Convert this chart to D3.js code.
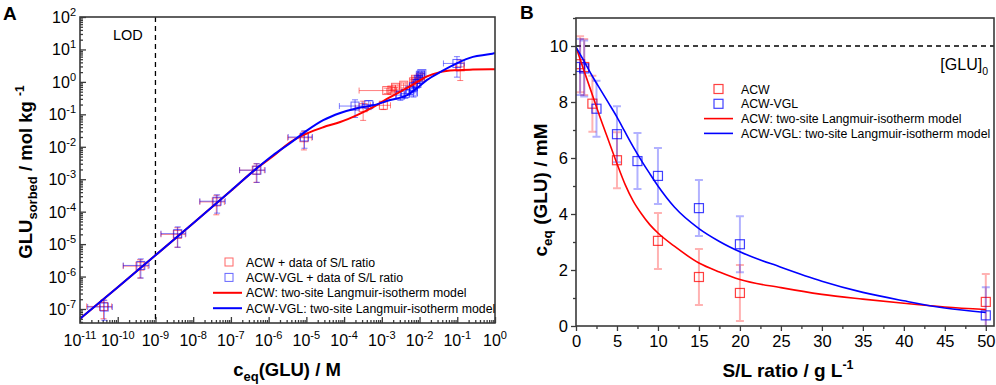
<!DOCTYPE html>
<html>
<head>
<meta charset="utf-8">
<script src="https://cdn.jsdelivr.net/npm/d3@7"></script>
<style>
  body { margin: 0; background: #fff; }
  svg { display: block; font-family: "Liberation Sans", Arial, Helvetica, sans-serif; }
</style>
</head>
<body>
<div id="chart"></div>
<script>
// ---------- Panel A: sorption isotherm (log-log) ----------
const aXExp = [-11, -10, -9, -8, -7, -6, -5, -4, -3, -2, -1, 0];
const aYExp = [-7, -6, -5, -4, -3, -2, -1, 0, 1, 2];
const lodC = 1e-9;

// ACW + data of S/L ratio
const acwC    = [4.2e-11, 3.9e-10, 3.8e-9, 4.1e-8, 4.7e-7, 8.6e-6, 3.2e-4, 1.1e-3, 1.35e-3, 1.85e-3, 2.3e-3, 3.8e-3, 6.9e-3, 7.8e-3, 1.05e-2, 0.12];
const acwQ    = [1.2e-7, 2.1e-6, 2.0e-5, 2.0e-4, 1.9e-3, 0.019, 0.16, 0.19, 0.54, 0.56, 0.68, 0.79, 1.0, 1.2, 1.4, 2.9];
const acwCErr = [2.7e-11, 2.5e-10, 2.4e-9, 2.6e-8, 3e-7, 5.4e-6, 1.2e-4, 6e-4, 1.1e-3, 3e-4, 4e-4, 6e-4, 1e-3, 1.2e-3, 1.4e-3, 0.03];
const acwQErr = [0.7e-7, 1.2e-6, 1.2e-5, 1.2e-4, 1.1e-3, 0.011, 0.095, 0.05, 0.1, 0.1, 0.12, 0.14, 0.18, 0.2, 0.25, 1.8];

// ACW-VGL + data of S/L ratio
const vglC    = [4.4e-11, 4.1e-10, 3.9e-9, 4.3e-8, 4.9e-7, 8.9e-6, 1.95e-4, 4.5e-4, 3.1e-3, 4.2e-3, 5.6e-3, 6.9e-3, 6.9e-3, 8.5e-3, 9.3e-3, 1.05e-2, 1.15e-2, 0.098];
const vglQ    = [1.15e-7, 2.2e-6, 2.1e-5, 2.1e-4, 1.9e-3, 0.020, 0.18, 0.20, 0.39, 0.44, 0.56, 0.71, 0.49, 0.89, 1.2, 1.6, 1.8, 3.7];
const vglCErr = [2.8e-11, 2.7e-10, 2.5e-9, 2.8e-8, 3.2e-7, 5.6e-6, 1.2e-4, 1.5e-4, 8e-4, 1e-3, 1.2e-3, 1.5e-3, 1.3e-3, 1.5e-3, 1.6e-3, 1.8e-3, 2e-3, 0.055];
const vglQErr = [0.7e-7, 1.3e-6, 1.3e-5, 1.2e-4, 1.1e-3, 0.011, 0.1, 0.06, 0.12, 0.13, 0.15, 0.2, 0.15, 0.25, 0.3, 0.35, 0.4, 2.3];

// two-site Langmuir model curves
const modelC   = [1e-11, 1e-10, 1e-9, 1e-8, 1e-7, 4.9e-7, 1.3e-6, 3.7e-6, 1.05e-5, 2.8e-5, 7.9e-5, 2.2e-4, 5.9e-4, 1.66e-3, 4.7e-3, 8.7e-3, 1.58e-2, 3.5e-2, 0.1, 0.26, 0.76, 1];
const acwModel = [5.0e-8, 4.7e-7, 4.5e-6, 4.4e-5, 4.4e-4, 2.2e-3, 5.1e-3, 0.0138, 0.026, 0.040, 0.058, 0.095, 0.166, 0.34, 0.65, 1.0, 1.48, 2.0, 2.3, 2.4, 2.45, 2.45];
const vglModel = [5.0e-8, 4.7e-7, 4.5e-6, 4.4e-5, 4.4e-4, 2.2e-3, 5.5e-3, 0.0129, 0.032, 0.066, 0.11, 0.155, 0.19, 0.275, 0.39, 0.65, 1.15, 2.0, 3.8, 5.9, 7.2, 7.8];

// ---------- Panel B: c_eq vs S/L ratio ----------
const bXTicks = [0, 5, 10, 15, 20, 25, 30, 35, 40, 45, 50];
const bYTicks = [0, 2, 4, 6, 8, 10];
const glu0 = 10;

const slACW   = [0.5, 1, 2, 5, 10, 15, 20, 50];
const ceqACW  = [9.35, 9.25, 7.94, 5.92, 3.04, 1.75, 1.18, 0.86];
const errACW  = [1, 1, 1, 1, 1, 1, 1, 1];

const slVGL   = [0.5, 1, 2.5, 5, 7.5, 10, 15, 20, 50];
const ceqVGL  = [9.25, 9.2, 7.76, 6.85, 5.89, 5.36, 4.21, 2.92, 0.38];
const errVGL  = [1, 1, 1, 1, 1, 1, 1, 1, 1];

const slModel = [0, 1, 2, 3, 4, 5, 6, 7, 8, 9, 10, 12, 15, 17.5, 20, 25, 30, 35, 40, 45, 50];
const acwFit  = [9.96, 9.1, 8.25, 7.4, 6.6, 5.8, 5.05, 4.45, 4.0, 3.62, 3.32, 2.85, 2.25, 1.93, 1.66, 1.37, 1.13, 0.96, 0.81, 0.68, 0.59];
const vglFit  = [9.96, 9.45, 8.92, 8.43, 7.95, 7.46, 6.92, 6.39, 5.9, 5.44, 5.0, 4.25, 3.48, 3.02, 2.65, 2.1, 1.6, 1.2, 0.9, 0.64, 0.48];

const RED = "#ff0000", BLUE = "#0000ff";
const FRAME = "#3a3a3a";

function zip(xs, ys, xe, ye) {
    return xs.map(function(x, i) {
        return {x: x, y: ys[i], xe: xe ? xe[i] : 0, ye: ye ? ye[i] : 0};
    });
}

let svg = d3.select("#chart")
    .append("svg")
    .attr("width", 996)
    .attr("height", 385);

// ======================= Panel A =======================
let ax = d3.scaleLog().domain([1e-11, 1]).range([80, 495]);
let ay = d3.scaleLog().domain([3.7e-8, 100]).range([323, 17]);
let gA = svg.append("g");

// minor log ticks
function logMinors(exps) {
    let out = [];
    exps.forEach(function(e) {
        for (let m = 2; m <= 9; m++) out.push(m * Math.pow(10, e));
    });
    return out;
}
let aXMajor = aXExp.map(function(e) { return Math.pow(10, e); });
let aYMajor = aYExp.map(function(e) { return Math.pow(10, e); });
let aXMinor = logMinors(aXExp.slice(0, -1));
let aYMinor = logMinors([-8].concat(aYExp.slice(0, -1))).filter(function(v) { return v >= 3.7e-8; });

function styleAxis(g) {
    g.select(".domain").remove();
    g.selectAll("line").attr("stroke", FRAME).attr("stroke-width", 1.3);
}

gA.append("g").attr("transform", "translate(0,323)")
    .call(d3.axisBottom(ax).tickValues(aXMajor).tickSize(-6).tickFormat(""))
    .call(styleAxis);
gA.append("g").attr("transform", "translate(0,323)")
    .call(d3.axisBottom(ax).tickValues(aXMinor).tickSize(-3).tickFormat(""))
    .call(styleAxis);
gA.append("g").attr("transform", "translate(80,0)")
    .call(d3.axisLeft(ay).tickValues(aYMajor).tickSize(-6).tickFormat(""))
    .call(styleAxis);
gA.append("g").attr("transform", "translate(80,0)")
    .call(d3.axisLeft(ay).tickValues(aYMinor).tickSize(-3).tickFormat(""))
    .call(styleAxis);

// tick labels as 10^n
gA.selectAll(".xlab").data(aXExp).enter()
    .append("text")
    .attr("class", "xlab")
    .attr("x", function(d) { return ax(Math.pow(10, d)); })
    .attr("y", 346)
    .attr("text-anchor", "middle")
    .attr("font-size", 16)
    .each(function(d) {
        let t = d3.select(this);
        t.append("tspan").text("10");
        t.append("tspan").attr("dy", -7).attr("font-size", 11).text(d);
    });
gA.selectAll(".ylab").data(aYExp).enter()
    .append("text")
    .attr("class", "ylab")
    .attr("x", 76)
    .attr("y", function(d) { return ay(Math.pow(10, d)) + 6; })
    .attr("text-anchor", "end")
    .attr("font-size", 16)
    .each(function(d) {
        let t = d3.select(this);
        t.append("tspan").text("10");
        t.append("tspan").attr("dy", -7).attr("font-size", 11).text(d);
    });

// LOD line
gA.append("line")
    .attr("x1", ax(lodC)).attr("x2", ax(lodC))
    .attr("y1", 17).attr("y2", 323)
    .attr("stroke", "#000").attr("stroke-width", 1.3)
    .attr("stroke-dasharray", "5,4");
gA.append("text").attr("x", 113).attr("y", 40).attr("font-size", 14.5).text("LOD");

gA.append("clipPath").attr("id", "clipA")
    .append("rect").attr("x", 80).attr("y", 17).attr("width", 415).attr("height", 306);

let plotA = gA.append("g").attr("clip-path", "url(#clipA)");

function errPathA(p) {
    let cx = ax(p.x), cy = ay(p.y);
    let x0 = ax(Math.max(p.x - p.xe, 1e-12)), x1 = ax(p.x + p.xe);
    let y0 = ay(Math.max(p.y - p.ye, 1e-9)), y1 = ay(p.y + p.ye);
    return "M" + x0 + "," + cy + "H" + x1 +
        "M" + x0 + "," + (cy - 3) + "V" + (cy + 3) +
        "M" + x1 + "," + (cy - 3) + "V" + (cy + 3) +
        "M" + cx + "," + y0 + "V" + y1 +
        "M" + (cx - 3) + "," + y0 + "H" + (cx + 3) +
        "M" + (cx - 3) + "," + y1 + "H" + (cx + 3);
}

function drawSeriesA(pts, col) {
    plotA.append("g").selectAll("path").data(pts).enter()
        .append("path")
        .attr("d", errPathA)
        .attr("fill", "none")
        .attr("stroke", col)
        .attr("stroke-opacity", 0.5)
        .attr("stroke-width", 1);
    plotA.append("g").selectAll("rect").data(pts).enter()
        .append("rect")
        .attr("x", function(d) { return ax(d.x) - 4; })
        .attr("y", function(d) { return ay(d.y) - 4; })
        .attr("width", 8).attr("height", 8)
        .attr("fill", "none")
        .attr("stroke", col)
        .attr("stroke-opacity", 0.6)
        .attr("stroke-width", 1);
}
drawSeriesA(zip(acwC, acwQ, acwCErr, acwQErr), RED);
drawSeriesA(zip(vglC, vglQ, vglCErr, vglQErr), BLUE);

let lineA = d3.line()
    .x(function(d) { return ax(d.x); })
    .y(function(d) { return ay(d.y); })
    .curve(d3.curveMonotoneX);
plotA.append("path").datum(zip(modelC, acwModel))
    .attr("d", lineA).attr("fill", "none").attr("stroke", RED).attr("stroke-width", 2);
plotA.append("path").datum(zip(modelC, vglModel))
    .attr("d", lineA).attr("fill", "none").attr("stroke", BLUE).attr("stroke-width", 2);

// frame
gA.append("rect").attr("x", 80).attr("y", 17).attr("width", 415).attr("height", 306)
    .attr("fill", "none").attr("stroke", FRAME).attr("stroke-width", 1.6);

// legend A
let legA = gA.append("g").attr("font-size", 12.3);
let legAItems = [
    {type: "sq", col: RED, label: "ACW + data of S/L ratio"},
    {type: "sq", col: BLUE, label: "ACW-VGL + data of S/L ratio"},
    {type: "ln", col: RED, label: "ACW: two-site Langmuir-isotherm model"},
    {type: "ln", col: BLUE, label: "ACW-VGL: two-site Langmuir-isotherm model"}
];
legAItems.forEach(function(d, i) {
    let y = 262 + i * 15.4;
    if (d.type === "sq") {
        legA.append("rect").attr("x", 225).attr("y", y - 4).attr("width", 8).attr("height", 8)
            .attr("fill", "none").attr("stroke", d.col).attr("stroke-opacity", 0.6);
    } else {
        legA.append("line").attr("x1", 213).attr("x2", 242).attr("y1", y).attr("y2", y)
            .attr("stroke", d.col).attr("stroke-width", 2);
    }
    legA.append("text").attr("x", 246).attr("y", y + 4.5).text(d.label);
});

// titles A
gA.append("text").attr("x", 3).attr("y", 20).attr("font-size", 19).attr("font-weight", "bold").text("A");
let xtA = gA.append("text").attr("x", 287).attr("y", 376).attr("text-anchor", "middle")
    .attr("font-size", 18.5).attr("font-weight", "bold");
xtA.append("tspan").text("c");
xtA.append("tspan").attr("dy", 5).attr("font-size", 13).text("eq");
xtA.append("tspan").attr("dy", -5).text("(GLU) / M");

let ytA = gA.append("text").attr("transform", "translate(32,172) rotate(-90)")
    .attr("text-anchor", "middle").attr("font-size", 18.5).attr("font-weight", "bold");
ytA.append("tspan").text("GLU");
ytA.append("tspan").attr("dy", 5).attr("font-size", 13).text("sorbed");
ytA.append("tspan").attr("dy", -5).text(" / mol kg ");
ytA.append("tspan").attr("dy", -8).attr("font-size", 12).text("-1");

// ======================= Panel B =======================
let bx = d3.scaleLinear().domain([0, 51]).range([576, 994]);
let by = d3.scaleLinear().domain([0, 11]).range([326, 18]);
let gB = svg.append("g");

function styleAxisB(g) {
    g.select(".domain").remove();
    g.selectAll("line").attr("stroke", FRAME).attr("stroke-width", 1.3);
    g.selectAll("text").attr("font-size", 16.5).attr("fill", "#000")
        .attr("font-family", '"Liberation Sans", Arial, sans-serif');
}

gB.append("g").attr("transform", "translate(0,326)")
    .call(d3.axisBottom(bx).tickValues(bXTicks).tickSize(5).tickPadding(4).tickFormat(d3.format("d")))
    .call(styleAxisB);
gB.append("g").attr("transform", "translate(0,326)")
    .call(d3.axisBottom(bx).tickValues(bXTicks.slice(0, -1).map(function(v) { return v + 2.5; }))
        .tickSize(3).tickFormat(""))
    .call(styleAxisB);
gB.append("g").attr("transform", "translate(576,0)")
    .call(d3.axisLeft(by).tickValues(bYTicks).tickSize(5).tickPadding(3).tickFormat(d3.format("d")))
    .call(styleAxisB);
gB.append("g").attr("transform", "translate(576,0)")
    .call(d3.axisLeft(by).tickValues(bYTicks.map(function(v) { return v + 1; })).tickSize(3).tickFormat(""))
    .call(styleAxisB);

gB.append("clipPath").attr("id", "clipB")
    .append("rect").attr("x", 576).attr("y", 18).attr("width", 418).attr("height", 308);
let plotB = gB.append("g").attr("clip-path", "url(#clipB)");

// [GLU]0 line
plotB.append("line")
    .attr("x1", 576).attr("x2", 994)
    .attr("y1", by(glu0)).attr("y2", by(glu0))
    .attr("stroke", "#000").attr("stroke-width", 1.3).attr("stroke-dasharray", "5,4");
let gluLab = gB.append("text").attr("x", 988).attr("y", 70).attr("text-anchor", "end").attr("font-size", 16);
gluLab.append("tspan").text("[GLU]");
gluLab.append("tspan").attr("dy", 5).attr("font-size", 10.5).text("0");

function drawSeriesB(pts, col) {
    plotB.append("g").selectAll("path").data(pts).enter()
        .append("path")
        .attr("d", function(p) {
            let cx = bx(p.x), y0 = by(p.y - p.ye), y1 = by(p.y + p.ye);
            return "M" + cx + "," + y0 + "V" + y1 +
                "M" + (cx - 4) + "," + y0 + "H" + (cx + 4) +
                "M" + (cx - 4) + "," + y1 + "H" + (cx + 4);
        })
        .attr("fill", "none")
        .attr("stroke", col)
        .attr("stroke-opacity", 0.3)
        .attr("stroke-width", 2);
    plotB.append("g").selectAll("rect").data(pts).enter()
        .append("rect")
        .attr("x", function(d) { return bx(d.x) - 4.5; })
        .attr("y", function(d) { return by(d.y) - 4.5; })
        .attr("width", 9).attr("height", 9)
        .attr("fill", "none")
        .attr("stroke", col)
        .attr("stroke-opacity", 0.75)
        .attr("stroke-width", 1.2);
}
drawSeriesB(zip(slACW, ceqACW, null, errACW), RED);
drawSeriesB(zip(slVGL, ceqVGL, null, errVGL), BLUE);

let lineB = d3.line()
    .x(function(d) { return bx(d.x); })
    .y(function(d) { return by(d.y); })
    .curve(d3.curveMonotoneX);
plotB.append("path").datum(zip(slModel, acwFit))
    .attr("d", lineB).attr("fill", "none").attr("stroke", RED).attr("stroke-width", 1.6);
plotB.append("path").datum(zip(slModel, vglFit))
    .attr("d", lineB).attr("fill", "none").attr("stroke", BLUE).attr("stroke-width", 1.6);

gB.append("rect").attr("x", 576).attr("y", 18).attr("width", 418).attr("height", 308)
    .attr("fill", "none").attr("stroke", FRAME).attr("stroke-width", 1.6);

// legend B
let legB = gB.append("g").attr("font-size", 12.3);
let legBItems = [
    {type: "sq", col: RED, label: "ACW"},
    {type: "sq", col: BLUE, label: "ACW-VGL"},
    {type: "ln", col: RED, label: "ACW: two-site Langmuir-isotherm model"},
    {type: "ln", col: BLUE, label: "ACW-VGL: two-site Langmuir-isotherm model"}
];
legBItems.forEach(function(d, i) {
    let y = 89 + i * 14.8;
    if (d.type === "sq") {
        legB.append("rect").attr("x", 714).attr("y", y - 4.5).attr("width", 9).attr("height", 9)
            .attr("fill", "none").attr("stroke", d.col).attr("stroke-opacity", 0.75).attr("stroke-width", 1.2);
    } else {
        legB.append("line").attr("x1", 704).attr("x2", 733).attr("y1", y).attr("y2", y)
            .attr("stroke", d.col).attr("stroke-width", 1.6);
    }
    legB.append("text").attr("x", 741).attr("y", y + 4.5).text(d.label);
});

// titles B
gB.append("text").attr("x", 520).attr("y", 19).attr("font-size", 19).attr("font-weight", "bold").text("B");
let xtB = gB.append("text").attr("x", 788).attr("y", 377).attr("text-anchor", "middle")
    .attr("font-size", 19).attr("font-weight", "bold");
xtB.append("tspan").text("S/L ratio / g L");
xtB.append("tspan").attr("dy", -8).attr("font-size", 12.5).text("-1");

let ytB = gB.append("text").attr("transform", "translate(547,190) rotate(-90)")
    .attr("text-anchor", "middle").attr("font-size", 19).attr("font-weight", "bold");
ytB.append("tspan").text("c");
ytB.append("tspan").attr("dy", 5).attr("font-size", 13.5).text("eq");
ytB.append("tspan").attr("dy", -5).text(" (GLU) / mM");
</script>
</body>
</html>
